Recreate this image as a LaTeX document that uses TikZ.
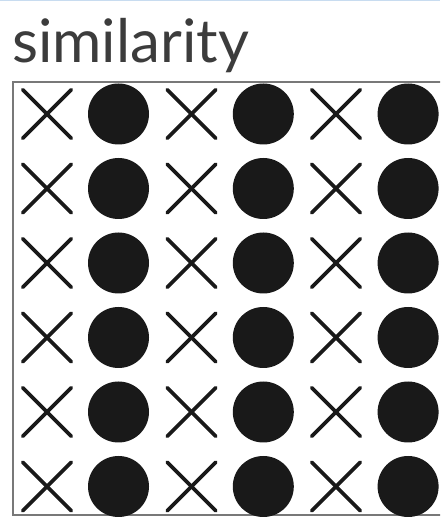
\documentclass[tikz,border=0pt]{standalone}
\usepackage{fontspec}
\setmainfont{Lato}
\usepackage{xcolor}
\usepackage{tikz}
\definecolor{ink}{RGB}{25,25,25}
\definecolor{frame}{RGB}{120,120,120}
\definecolor{txt}{RGB}{60,60,60}
\definecolor{topline}{RGB}{200,220,240}
\tikzset{
  dot/.style={circle,fill=ink,inner sep=0pt,minimum size=61pt},
  cross/.style={inner sep=0pt,minimum size=48pt},
  crossline/.style={ink,line width=3.8pt,line cap=round}
}

\begin{document}
\begin{tikzpicture}[x=1pt,y=1pt]
  % page
  \clip (0,0) rectangle (440,517);
  \fill[white] (0,0) rectangle (440,517);
  \draw[topline,line width=1.5pt] (0,516.5) -- (440,516.5);

  % title
  \node[anchor=base west,font=\fontsize{60}{60}\selectfont,text=txt,inner sep=0pt] (title) at (12,454) {similarity};

  % outer frame (runs past the right edge)
  \draw[frame,line width=2pt] (13,2) rectangle (460,435);

  % rows of crosses and dots
  \foreach \r in {0,...,5} {
    \foreach \c in {0,1,2} {
      \node[cross] (x-\r-\c) at (47+144.5*\c,403-74.5*\r) {};
      \draw[crossline] (x-\r-\c.north west) -- (x-\r-\c.south east);
      \draw[crossline] (x-\r-\c.south west) -- (x-\r-\c.north east);
      \node[dot] (d-\r-\c) at (118.5+144.8*\c,403-74.5*\r) {};
    }
  }
\end{tikzpicture}
\end{document}
